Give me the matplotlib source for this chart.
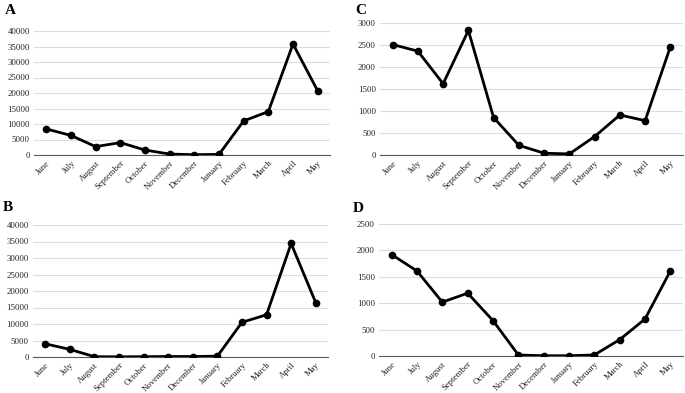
import matplotlib.pyplot as plt
import numpy as np

months = ['June', 'July', 'August', 'September', 'October', 'November',
          'December', 'January', 'February', 'March', 'April', 'May']

vals_a = [8400, 6300, 2700, 4000, 1600, 300, 100, 200, 11000, 14000, 35800, 20700]
vals_b = [4000, 2300, 100, 50, 100, 150, 150, 250, 10500, 12800, 34400, 16500]
vals_c = [2510, 2360, 1620, 2830, 850, 220, 40, 25, 420, 910, 780, 2460]
vals_d = [1920, 1610, 1020, 1190, 670, 20, 5, 5, 20, 310, 700, 1610]

plt.rcParams['font.family'] = ['Liberation Serif', 'DejaVu Serif']

W, H = 685, 393
fig = plt.figure(figsize=(W / 100, H / 100), dpi=100)

def px_axes(left, top, right, bottom):
    return fig.add_axes([left / W, 1 - bottom / H, (right - left) / W, (bottom - top) / H])

panels = [
    ('A', vals_a, (34, 31, 330, 155), 40000, 5000, (5, 11)),
    ('C', vals_c, (380, 23, 683, 155), 3000, 500, (355, 10)),
    ('B', vals_b, (33, 225, 328, 357), 40000, 5000, (3, 208)),
    ('D', vals_d, (379, 224, 683, 356), 2500, 500, (353, 209)),
]

for name, vals, box, ymax, step, lpos in panels:
    ax = px_axes(*box)
    x = np.arange(len(months))
    ax.plot(x, vals, color='black', lw=2, marker='o', ms=4.5, zorder=3)
    ax.set_xlim(-0.5, len(months) - 0.5)
    ax.set_ylim(0, ymax)
    ax.set_yticks(np.arange(0, ymax + 1, step))
    ax.yaxis.grid(True, color='#dcdcdc', lw=0.8)
    ax.set_axisbelow(True)
    for s in ['top', 'right', 'left']:
        ax.spines[s].set_visible(False)
    ax.spines['bottom'].set_color('#595959')
    ax.spines['bottom'].set_linewidth(0.8)
    ax.set_xticks(x)
    ax.set_xticklabels(months, rotation=45, ha='right', rotation_mode='anchor')
    ax.tick_params(axis='both', length=0, labelsize=6.3, pad=3, colors='#222222')
    fig.text(lpos[0] / W, 1 - lpos[1] / H, name, fontsize=11, fontweight='bold',
             ha='left', va='center')

fig.savefig('out.png', dpi=100)
